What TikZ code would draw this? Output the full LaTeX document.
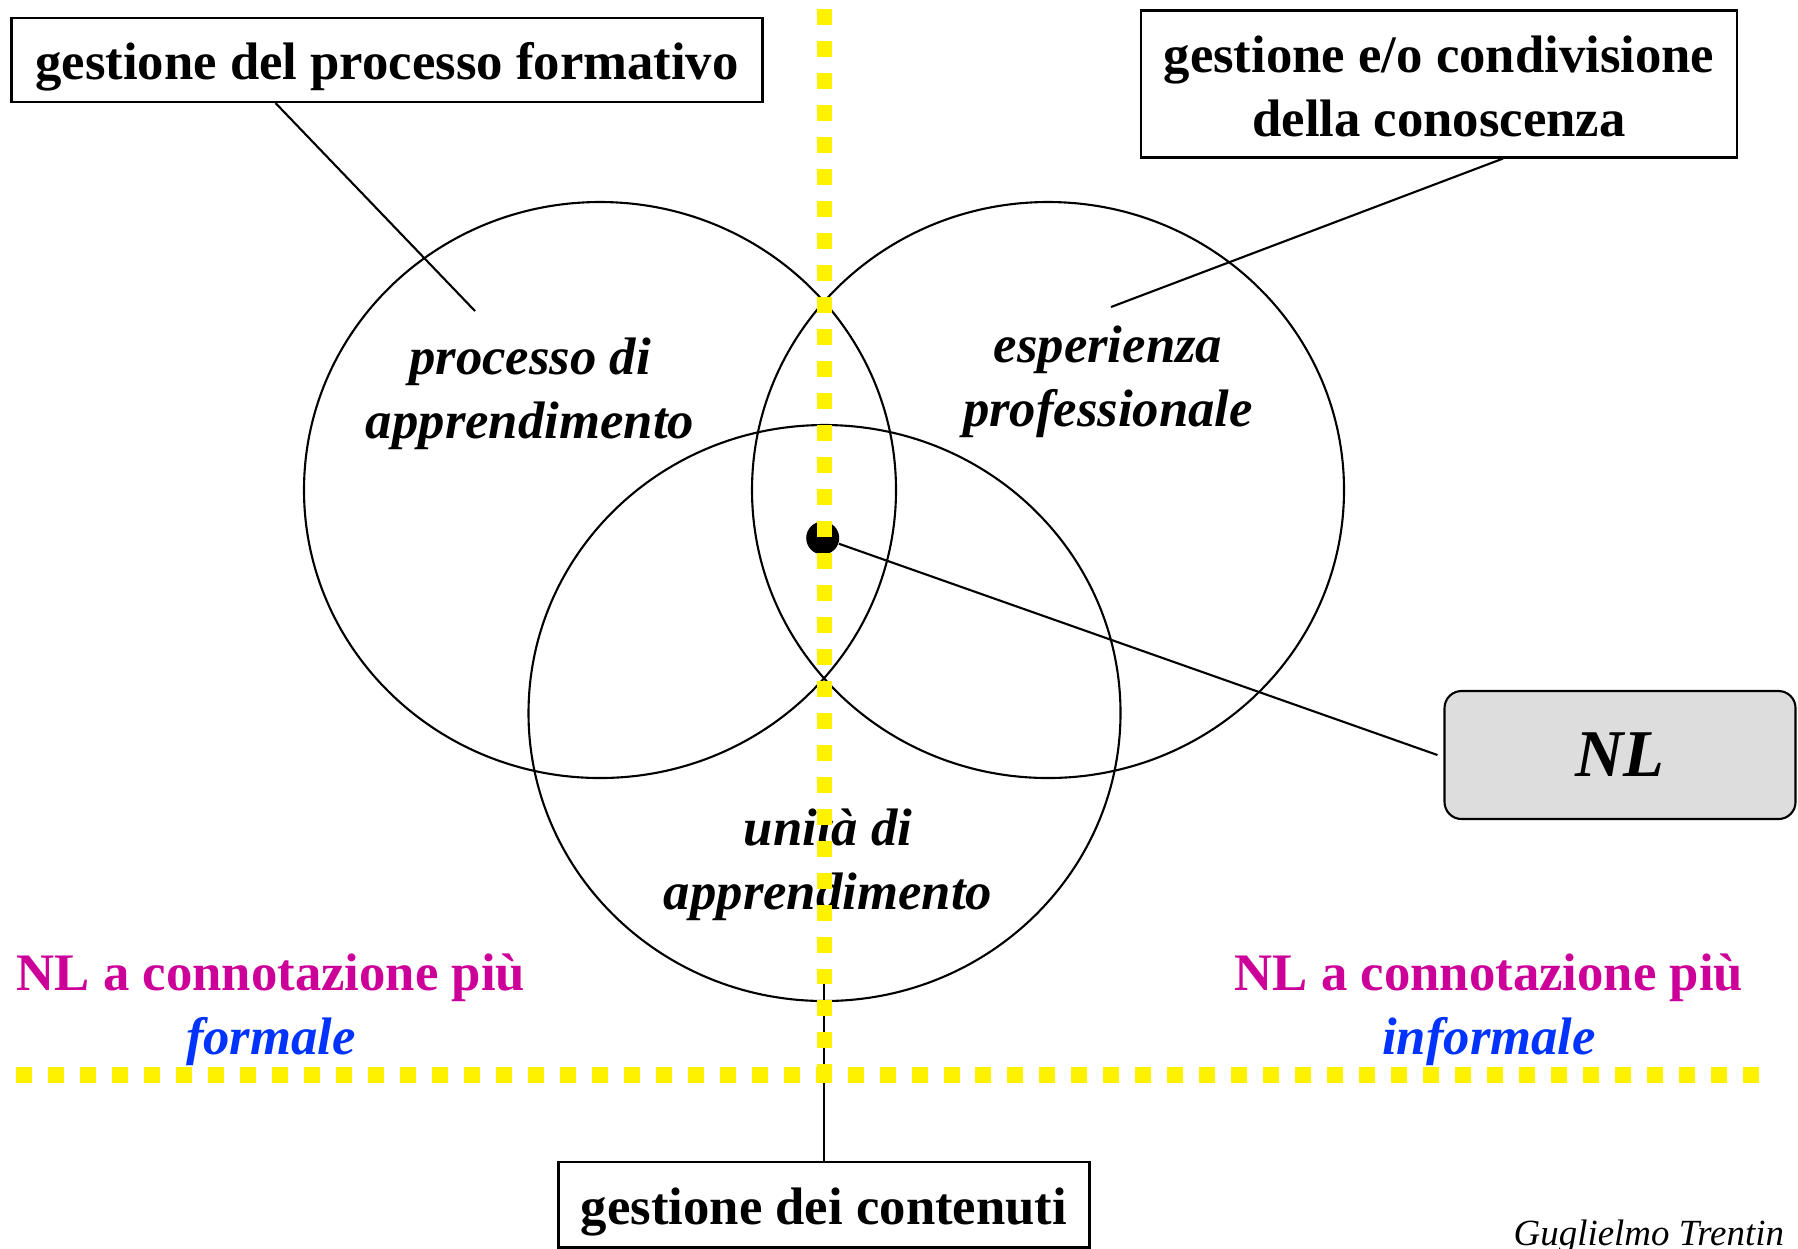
\documentclass[tikz,border=0pt]{standalone}
\usepackage{fontspec}
\setmainfont{Liberation Serif}
\usetikzlibrary{calc}
\definecolor{nlmagenta}{RGB}{204,0,153}
\definecolor{nlblue}{RGB}{0,51,255}
\definecolor{nlgray}{RGB}{221,221,221}
\begin{document}
\begin{tikzpicture}[x=0.1mm,y=-0.1mm,
    box/.style={draw,line width=0.6pt,inner sep=0pt,align=center,
      font=\fontsize{15pt}{18.3pt}\selectfont\bfseries},
    lbl/.style={align=center,font=\fontsize{15pt}{18.3pt}\selectfont\bfseries\itshape},
    side/.style={align=center,text=nlmagenta,font=\fontsize{15pt}{18.3pt}\selectfont\bfseries},
    ydash/.style={yellow,line width=4.3pt,dash pattern=on 4.55pt off 4.55pt}]
    \useasboundingbox (0,0) rectangle (1798,1248);
    % the three areas
    \draw[line width=0.6pt] (600,490) ellipse [x radius=29.6mm, y radius=28.8mm];
    \draw[line width=0.6pt] (1048,490) ellipse [x radius=29.6mm, y radius=28.8mm];
    \draw[line width=0.6pt] (824.5,713) ellipse [x radius=29.6mm, y radius=28.8mm];
    \node[lbl] (lproc) at (530,394) {processo di\\apprendimento};
    \node[lbl] (lesp) at (1108,382) {esperienza\\professionale};
    \node[lbl] (lunit) at (828,865) {unità di\\apprendimento};
    % boxes
    \node[box,minimum width=75.1mm,minimum height=8.4mm] (boxA) at (387,60) {\rule{0pt}{14.6pt}gestione del processo formativo};
    \node[box,minimum width=59.6mm,minimum height=14.7mm] (boxB) at (1439,84) {\rule{0pt}{11.8pt}gestione e/o condivisione\\della conoscenza};
    \node[box,minimum width=53.1mm,minimum height=8.55mm] (boxC) at (824,1204.75) {\rule{0pt}{14.4pt}gestione dei contenuti};
    \node[draw,line width=0.6pt,fill=nlgray,rounded corners=1.7mm,minimum width=35.1mm,minimum height=12.8mm,
      font=\fontsize{19pt}{22pt}\selectfont\bfseries\itshape] (nl) at (1620,755) {NL};
    \node[circle,fill=black,inner sep=0pt,minimum size=3.3mm] (dot) at (822.7,538) {};
    % connectors
    \coordinate (pa) at (475,311);
    \coordinate (pb) at (1111,307);
    \coordinate (pc) at (824,984);
    \draw[line width=0.6pt] ($(boxA.south west)!0.352!(boxA.south east)$) -- (pa);
    \draw[line width=0.6pt] ($(boxB.south west)!0.607!(boxB.south east)$) -- (pb);
    \draw[line width=0.6pt] (boxC.north) -- (pc);
    \draw[line width=0.6pt] (dot) -- ([xshift=-0.6mm]nl.west);
    % formal / informal
    \node[side] (lformal) at (271,1010) {NL a connotazione più\\\textcolor{nlblue}{\itshape formale}};
    \node[side] (linformal) at (1489,1010) {NL a connotazione più\\\textcolor{nlblue}{\itshape informale}};
    \node[anchor=base west,inner sep=0pt,font=\fontsize{10.5pt}{12pt}\selectfont\itshape] (author) at (1513,1245) {Guglielmo Trentin};
    % yellow dividers
    \draw[ydash] (824.5,9) -- (824.5,1083);
    \draw[ydash] (16,1075) -- (1760,1075);
\end{tikzpicture}
\end{document}
